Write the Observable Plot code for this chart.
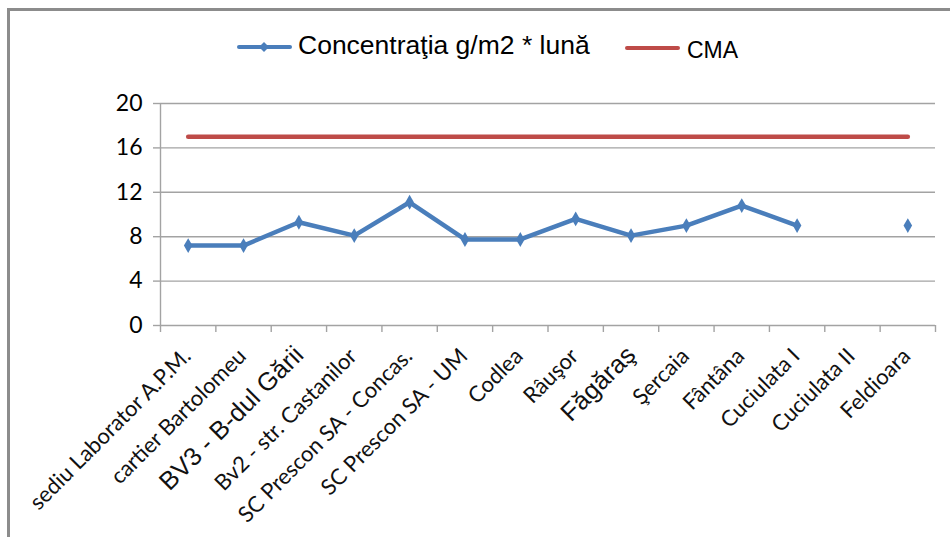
<!DOCTYPE html>
<html>
<head>
<meta charset="utf-8">
<script src="https://cdn.jsdelivr.net/npm/d3@7"></script>
<script src="https://cdn.jsdelivr.net/npm/@observablehq/plot@0.6"></script>
<style>
  html, body { margin: 0; padding: 0; background: #fff; }
  #wrap { position: relative; width: 950px; height: 537px; overflow: hidden; }
  #frame { position: absolute; left: 7px; top: 8px; width: 1000px; height: 600px;
           border-left: 3px solid #8c8c8c; border-top: 3px solid #8c8c8c; box-sizing: border-box; }
  #legend { position: absolute; left: 0; top: 0; width: 950px; height: 80px;
            font-family: "Liberation Sans", Arial, sans-serif; }
  .sw { position: absolute; height: 4px; border-radius: 2px; }
  .lab { position: absolute; white-space: nowrap; color: #000; }
  #chart { position: absolute; left: 0; top: 80px; }
</style>
</head>
<body>
<div id="wrap">
  <div id="frame"></div>
  <div id="legend">
    <div class="sw" style="left:237px; top:45px; width:55px; background:#4a7ebb;"></div>
    <svg style="position:absolute;left:259px;top:42px" width="10" height="10"><path d="M5 0 L10 5 L5 10 L0 5 Z" fill="#4a7ebb"/></svg>
    <div class="lab" style="left:298px; top:30px; font-size:26.5px;">Concentraţia g/m2 * lună</div>
    <div class="sw" style="left:625px; top:46px; width:55px; background:#be4b48;"></div>
    <div class="lab" style="left:687px; top:37px; font-size:23px;">CMA</div>
  </div>
  <div id="chart"></div>
</div>
<script>
const categories = [
  "sediu Laborator A.P.M.", "cartier Bartolomeu", "BV3 - B-dul Gării", "Bv2 - str. Castanilor",
  "SC Prescon SA - Concas.", "SC Prescon SA - UM", "Codlea", "Râuşor", "Făgăraş", "Şercaia",
  "Fântâna", "Cuciulata I", "Cuciulata II", "Feldioara"
];
const concentratia = [7.2, 7.2, 9.3, 8.1, 11.1, 7.75, 7.75, 9.6, 8.1, 9.0, 10.8, 9.0, null, 9.0];
const cma = [17, 17, 17, 17, 17, 17, 17, 17, 17, 17, 17, 17, 17, 17];
const bigLabels = ["BV3 - B-dul Gării", "Făgăraş"];
const yTicks = [0, 4, 8, 12, 16, 20];

const rows = categories.map((c, i) => ({cat: c, pos: i + 0.5, v: concentratia[i], cma: cma[i]}));
const normalRows = rows.filter(d => !bigLabels.includes(d.cat));
const bigRows = rows.filter(d => bigLabels.includes(d.cat));

const chart = Plot.plot({
  width: 950,
  height: 457,
  marginLeft: 160,
  marginRight: 15,
  marginTop: 23,
  marginBottom: 212,
  style: {fontFamily: "Lato, sans-serif", color: "#000", background: "transparent"},
  x: {type: "linear", domain: [0, categories.length]},
  y: {domain: [0, 20]},
  marks: [
    Plot.gridY(yTicks, {stroke: "#a3a3a3", strokeOpacity: 1, strokeWidth: 1.4}),
    Plot.ruleX([0], {stroke: "#a3a3a3", strokeWidth: 1.4}),
    Plot.axisY(yTicks, {tickSize: 7, tickPadding: 11, fontSize: 23, stroke: "#a3a3a3", strokeWidth: 1.4, label: null}),
    Plot.axisX(d3.range(categories.length + 1), {tickSize: 7, tickFormat: () => "", stroke: "#a3a3a3", strokeWidth: 1.4, label: null}),
    Plot.line(rows, {x: "pos", y: "cma", stroke: "#be4b48", strokeWidth: 4.5, strokeLinecap: "round"}),
    Plot.line(rows, {x: "pos", y: "v", stroke: "#4a7ebb", strokeWidth: 4.5, strokeLinejoin: "round"}),
    Plot.dot(rows.filter(d => d.v != null), {x: "pos", y: "v", symbol: "diamond", r: 4.5, fill: "#4a7ebb", stroke: "none"}),
    Plot.text(normalRows, {x: "pos", text: "cat", frameAnchor: "bottom", rotate: -45, textAnchor: "end",
      dx: 4, dy: 32, fontSize: 22, fontFamily: "Lato, sans-serif", fill: "#111"}),
    Plot.text(bigRows, {x: "pos", text: "cat", frameAnchor: "bottom", rotate: -45, textAnchor: "end",
      dx: 6, dy: 31, fontSize: 25.5, fontFamily: "Liberation Sans, Arial, sans-serif", fill: "#111"})
  ]
});
document.getElementById("chart").appendChild(chart);
</script>
</body>
</html>
